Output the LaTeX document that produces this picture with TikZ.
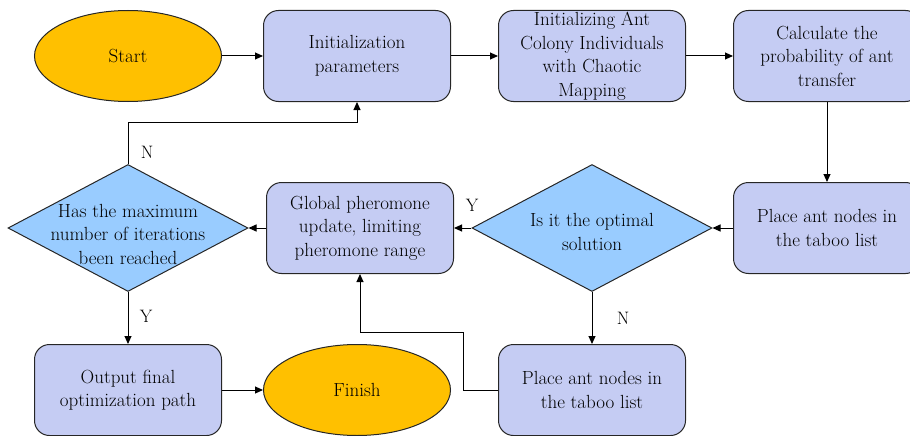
\documentclass[tikz,border=0pt]{standalone}
\usetikzlibrary{shapes.geometric,arrows.meta}
\definecolor{boxfill}{RGB}{197,204,243}
\definecolor{ovalfill}{RGB}{255,192,0}
\definecolor{diafill}{RGB}{153,204,255}
\begin{document}
\begin{tikzpicture}[x=1pt,y=-1pt,
  font=\rmfamily\fontsize{19}{23.5}\selectfont,
  box/.style={draw=black!85, fill=boxfill, rounded corners=15pt, minimum width=187pt, minimum height=91pt, inner sep=0pt, align=center, line width=1pt},
  oval/.style={draw=black!85, ellipse, fill=ovalfill, minimum width=187pt, minimum height=91pt, inner sep=0pt, line width=1pt},
  dia/.style={draw=black!85, diamond, fill=diafill, minimum width=240pt, minimum height=127pt, inner sep=0pt, line width=1pt},
  txt/.style={align=center, inner sep=0pt},
  arr/.style={-{Triangle[length=8pt,width=7pt]}, line width=1pt},
  lbl/.style={inner sep=0pt, font=\rmfamily\fontsize{18}{21}\selectfont}]
\useasboundingbox (0,0) rectangle (910,436);
% row 1
\node[oval] (start) at (128,56) {Start};
\node[box] (init) at (357,56) {Initialization\\parameters};
\node[box] (chaos) at (592,56) {Initializing Ant\\Colony Individuals\\with Chaotic\\Mapping};
\node[box] (prob) at (827,56) {Calculate the\\probability of ant\\transfer};
% row 2
\node[box] (taboo1) at (827,228) {Place ant nodes in\\the taboo list};
\node[dia] (opt) at (592,228) {};
\node[txt] (optt) at (592,232) {Is it the optimal\\solution};
\node[box] (glob) at (360,228) {Global pheromone\\update, limiting\\pheromone range};
\node[dia] (maxit) at (128,228) {};
\node[txt] (maxitt) at (128,234) {Has the maximum\\number of iterations\\been reached};
% row 3
\node[box] (out) at (128,390) {Output final\\optimization path};
\node[oval] (fin) at (357,390) {Finish};
\node[box] (taboo2) at (592,390) {Place ant nodes in\\the taboo list};
% helper coordinates
\coordinate (nloop) at (128,122);
\coordinate (back) at (463,332);
% connectors
\draw[arr] (start) -- (init);
\draw[arr] (init) -- (chaos);
\draw[arr] (chaos) -- (prob);
\draw[arr] (prob) -- (taboo1);
\draw[arr] (taboo1) -- (opt);
\draw[arr] (opt) -- (glob);
\draw[arr] (glob) -- (maxit);
\draw[arr] (maxit.north) -- (nloop) -| (init.south);
\draw[arr] (maxit) -- (out);
\draw[arr] (opt) -- (taboo2);
\draw[arr] (taboo2.west) -| (back) -| (glob.south);
\draw[arr] (out) -- (fin);
% labels
\node[lbl] (ln1) at (147,152) {N};
\node[lbl] (ly1) at (146,316) {Y};
\node[lbl] (ly2) at (472,205) {Y};
\node[lbl] (ln2) at (623,318) {N};
\end{tikzpicture}
\end{document}
